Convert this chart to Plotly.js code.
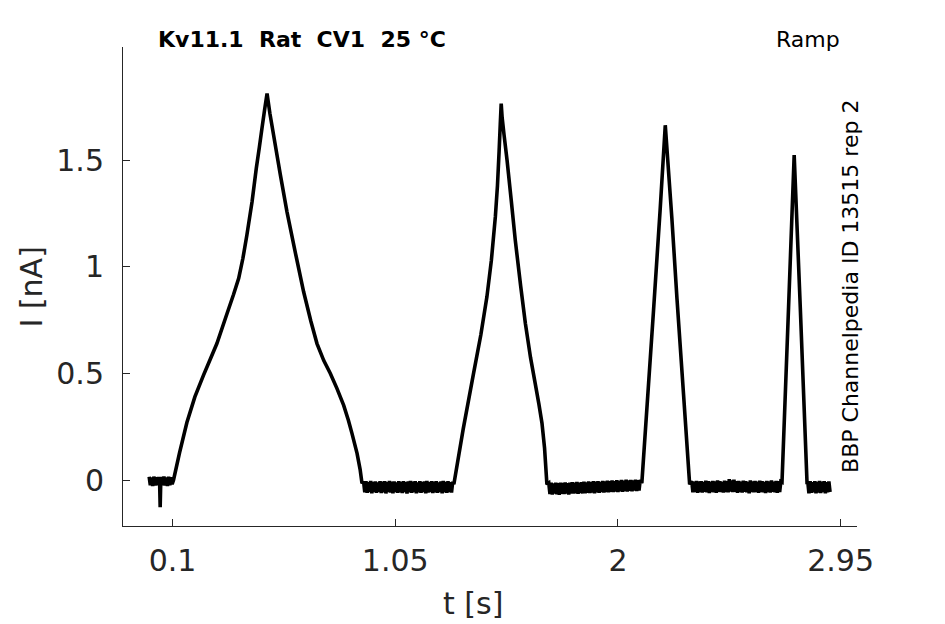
<!DOCTYPE html>
<html>
<head>
<meta charset="utf-8">
<script src="https://cdn.plot.ly/plotly-3.0.1.min.js"></script>
<style>
  html, body { margin: 0; padding: 0; background: #fff; }
  #ramp_graph { width: 945px; height: 624px; }
</style>
</head>
<body>
<div id="ramp_graph"></div>
<script>
// Kv11.1 rat, ramp protocol: current trace
// baseline before the ramp (with the short artefact dip)
var tPre = [0.000, 0.005, 0.010, 0.015, 0.020, 0.025, 0.030, 0.035, 0.040, 0.045,
            0.047, 0.049, 0.053, 0.058, 0.063, 0.068, 0.073, 0.078, 0.083, 0.088,
            0.093, 0.098]
var iPre = [0.015, -0.025, 0.012, -0.028, 0.016, -0.026, 0.013, -0.024, 0.014, -0.027,
            -0.127, -0.030, 0.014, -0.025, 0.016, -0.026, 0.012, -0.028, 0.015, -0.024,
            0.013, -0.020]

// ramp 1 (slowest)
var tPeak1 = [0.104, 0.130, 0.161, 0.195, 0.232, 0.262, 0.289, 0.332, 0.360, 0.382,
              0.400, 0.417, 0.439, 0.457, 0.470, 0.481, 0.493, 0.503, 0.515, 0.531,
              0.560, 0.588, 0.625, 0.659, 0.690, 0.716, 0.745, 0.773, 0.801, 0.830,
              0.850, 0.865, 0.887, 0.900, 0.908]
var iPeak1 = [0.000, 0.130, 0.270, 0.390, 0.492, 0.570, 0.640, 0.780, 0.870, 0.946,
              1.040, 1.149, 1.305, 1.461, 1.560, 1.648, 1.740, 1.813, 1.720, 1.617,
              1.430, 1.258, 1.060, 0.883, 0.745, 0.640, 0.560, 0.500, 0.430, 0.350,
              0.280, 0.220, 0.125, 0.050, -0.015]

var tGap1 = [0.915, 0.920, 0.925, 0.930, 0.935, 0.940, 0.945, 0.950, 0.955, 0.960,
             0.965, 0.970, 0.975, 0.980, 0.985, 0.990, 0.995, 1.000, 1.005, 1.010,
             1.015, 1.020, 1.025, 1.030, 1.035, 1.040, 1.045, 1.050, 1.055, 1.060,
             1.065, 1.070, 1.075, 1.080, 1.085, 1.090, 1.095, 1.100, 1.105, 1.110,
             1.115, 1.120, 1.125, 1.130, 1.135, 1.140, 1.145, 1.150, 1.155, 1.160,
             1.165, 1.170, 1.175, 1.180, 1.185, 1.190, 1.195, 1.200, 1.205, 1.210,
             1.215, 1.220, 1.225, 1.230, 1.235, 1.240, 1.245, 1.250, 1.255, 1.260,
             1.265, 1.270, 1.275, 1.280, 1.285, 1.290, 1.295]
var iGap1 = [-0.008, -0.058, -0.006, -0.060, -0.010, -0.056, -0.004, -0.062, -0.009, -0.057,
             -0.007, -0.060, -0.011, -0.055, -0.005, -0.061, -0.008, -0.058, -0.006, -0.063,
             -0.010, -0.056, -0.004, -0.059, -0.008, -0.062, -0.007, -0.057, -0.011, -0.060,
             -0.005, -0.058, -0.009, -0.061, -0.006, -0.056, -0.010, -0.064, -0.007, -0.058,
             -0.004, -0.060, -0.008, -0.057, -0.006, -0.062, -0.011, -0.058, -0.005, -0.060,
             -0.009, -0.056, -0.007, -0.063, -0.004, -0.059, -0.010, -0.057, -0.006, -0.061,
             -0.008, -0.058, -0.005, -0.060, -0.011, -0.056, -0.007, -0.062, -0.004, -0.058,
             -0.009, -0.060, -0.006, -0.057, -0.010, -0.059, -0.008]

// ramp 2
var tPeak2 = [1.300, 1.340, 1.384, 1.415, 1.441, 1.460, 1.477, 1.486, 1.493, 1.498,
              1.502, 1.506, 1.514, 1.527, 1.545, 1.562, 1.585, 1.605, 1.627, 1.647,
              1.663, 1.676, 1.687, 1.697]
var iPeak2 = [-0.020, 0.240, 0.500, 0.680, 0.859, 1.030, 1.234, 1.380, 1.540, 1.670,
              1.766, 1.700, 1.620, 1.500, 1.310, 1.125, 0.910, 0.735, 0.575, 0.453,
              0.355, 0.266, 0.150, -0.020]

var tGap2 = [1.705, 1.710, 1.715, 1.720, 1.725, 1.730, 1.735, 1.740, 1.745, 1.750,
             1.755, 1.760, 1.765, 1.770, 1.775, 1.780, 1.785, 1.790, 1.795, 1.800,
             1.805, 1.810, 1.815, 1.820, 1.825, 1.830, 1.835, 1.840, 1.845, 1.850,
             1.855, 1.860, 1.865, 1.870, 1.875, 1.880, 1.885, 1.890, 1.895, 1.900,
             1.905, 1.910, 1.915, 1.920, 1.925, 1.930, 1.935, 1.940, 1.945, 1.950,
             1.955, 1.960, 1.965, 1.970, 1.975, 1.980, 1.985, 1.990, 1.995, 2.000,
             2.005, 2.010, 2.015, 2.020, 2.025, 2.030, 2.035, 2.040, 2.045, 2.050,
             2.055, 2.060, 2.065, 2.070, 2.075, 2.080, 2.085, 2.090, 2.095]
var iGap2 = [-0.014, -0.066, -0.012, -0.068, -0.016, -0.064, -0.013, -0.067, -0.015, -0.069,
             -0.012, -0.065, -0.014, -0.066, -0.011, -0.064, -0.015, -0.068, -0.012, -0.063,
             -0.010, -0.064, -0.013, -0.062, -0.009, -0.065, -0.012, -0.061, -0.010, -0.063,
             -0.008, -0.062, -0.011, -0.060, -0.007, -0.061, -0.010, -0.059, -0.006, -0.062,
             -0.008, -0.058, -0.005, -0.060, -0.009, -0.057, -0.004, -0.059, -0.007, -0.056,
             -0.003, -0.058, -0.006, -0.055, -0.002, -0.057, -0.005, -0.054, -0.001, -0.056,
             -0.004, -0.053, 0.000, -0.055, -0.003, -0.052, 0.001, -0.054, -0.002, -0.051,
             0.000, -0.053, -0.002, -0.050, 0.001, -0.052, -0.001, -0.050, 0.000]

// ramp 3
var tPeak3 = [2.102, 2.152, 2.180, 2.202, 2.230, 2.252, 2.280, 2.306]
var iPeak3 = [-0.015, 0.797, 1.266, 1.664, 1.230, 0.850, 0.400, -0.020]

var tGap3 = [2.315, 2.320, 2.325, 2.330, 2.335, 2.340, 2.345, 2.350, 2.355, 2.360,
             2.365, 2.370, 2.375, 2.380, 2.385, 2.390, 2.395, 2.400, 2.405, 2.410,
             2.415, 2.420, 2.425, 2.430, 2.435, 2.440, 2.445, 2.450, 2.455, 2.460,
             2.465, 2.470, 2.475, 2.480, 2.485, 2.490, 2.495, 2.500, 2.505, 2.510,
             2.515, 2.520, 2.525, 2.530, 2.535, 2.540, 2.545, 2.550, 2.555, 2.560,
             2.565, 2.570, 2.575, 2.580, 2.585, 2.590, 2.595, 2.600, 2.605, 2.610,
             2.615, 2.620, 2.625, 2.630, 2.635, 2.640, 2.645, 2.650, 2.655, 2.660,
             2.665, 2.670, 2.675, 2.680, 2.685, 2.690, 2.695]
var iGap3 = [-0.006, -0.058, -0.008, -0.056, -0.004, -0.060, -0.007, -0.057, -0.005, -0.059,
             -0.009, -0.055, -0.003, -0.058, -0.006, -0.061, -0.008, -0.056, -0.004, -0.058,
             -0.007, -0.060, -0.002, -0.055, -0.006, -0.057, -0.009, -0.059, -0.003, -0.056,
             -0.005, -0.058, 0.004, -0.054, -0.002, -0.057, 0.002, -0.055, -0.006, -0.060,
             -0.004, -0.056, -0.008, -0.059, -0.003, -0.055, -0.006, -0.058, -0.009, -0.062,
             -0.002, -0.056, -0.007, -0.058, -0.004, -0.057, -0.008, -0.060, -0.003, -0.056,
             -0.006, -0.058, -0.009, -0.061, -0.004, -0.057, -0.007, -0.059, -0.002, -0.055,
             -0.008, -0.058, -0.004, -0.060, -0.006, -0.057, -0.007]

// ramp 4 (fastest)
var tPeak4 = [2.700, 2.728, 2.752, 2.778, 2.807]
var iPeak4 = [-0.010, 0.810, 1.524, 0.810, -0.020]

var tPost = [2.810, 2.815, 2.820, 2.825, 2.830, 2.835, 2.840, 2.845, 2.850, 2.855,
             2.860, 2.865, 2.870, 2.875, 2.880, 2.885, 2.890, 2.895, 2.900, 2.905]
var iPost = [-0.008, -0.062, -0.006, -0.060, -0.010, -0.058, -0.005, -0.063, -0.009, -0.059,
             -0.004, -0.061, -0.008, -0.057, -0.006, -0.062, -0.010, -0.058, -0.007, -0.056]

var xTicks = [0.1, 1.05, 2, 2.95]
var xTickText = ['0.1', '1.05', '2', '2.95']
var yTicks = [0, 0.5, 1, 1.5]
var yTickText = ['0', '0.5', '1', '1.5']

var t = [].concat(tPre, tPeak1, tGap1, tPeak2, tGap2, tPeak3, tGap3, tPeak4, tPost)
var I = [].concat(iPre, iPeak1, iGap1, iPeak2, iGap2, iPeak3, iGap3, iPeak4, iPost)

var axisColor = '#262626'
var font = 'DejaVu Sans, sans-serif'

var data = [{
    x: t,
    y: I,
    type: 'scatter',
    mode: 'lines',
    line: { color: '#000000', width: 3.6, simplify: false },
    hoverinfo: 'skip'
}]

var axisBase = {
    showgrid: false,
    zeroline: false,
    showline: true,
    linecolor: axisColor,
    linewidth: 1,
    ticks: 'inside',
    ticklen: 7,
    tickwidth: 1,
    tickcolor: axisColor,
    tickfont: { family: font, size: 30, color: axisColor },
    fixedrange: true
}

var layout = {
    width: 945,
    height: 624,
    margin: { l: 123, r: 88, t: 47, b: 98 },
    paper_bgcolor: '#ffffff',
    plot_bgcolor: '#ffffff',
    showlegend: false,
    xaxis: Object.assign({}, axisBase, {
        range: [-0.1116, 3.02],
        tickmode: 'array',
        tickvals: xTicks,
        ticktext: xTickText,
        ticklabelstandoff: 8
    }),
    yaxis: Object.assign({}, axisBase, {
        range: [-0.2157, 2.031],
        tickmode: 'array',
        tickvals: yTicks,
        ticktext: yTickText,
        ticklabelstandoff: 12
    }),
    annotations: [
        { text: '<b>Kv11.1  Rat  CV1  25 °C</b>', xref: 'paper', yref: 'paper',
          x: 0.045, y: 1.016, xanchor: 'left', yanchor: 'middle', showarrow: false,
          font: { family: font, size: 22, color: '#000000' } },
        { text: 'Ramp', xref: 'paper', yref: 'paper',
          x: 0.979, y: 1.016, xanchor: 'right', yanchor: 'middle', showarrow: false,
          font: { family: font, size: 22, color: '#000000' } },
        { text: 'BBP Channelpedia ID 13515 rep 2', xref: 'paper', yref: 'paper',
          x: 0.991, y: 0.5, xanchor: 'center', yanchor: 'middle', textangle: -90,
          showarrow: false, font: { family: font, size: 22, color: '#000000' } },
        { text: 't [s]', xref: 'paper', yref: 'paper',
          x: 0.477, y: -0.161, xanchor: 'center', yanchor: 'middle', showarrow: false,
          font: { family: font, size: 30, color: axisColor } },
        { text: 'I [nA]', xref: 'paper', yref: 'paper',
          x: -0.124, y: 0.5, xanchor: 'center', yanchor: 'middle', textangle: -90,
          showarrow: false, font: { family: font, size: 30, color: axisColor } }
    ]
}

Plotly.newPlot('ramp_graph', data, layout, { displayModeBar: false, staticPlot: true })
</script>
</body>
</html>
